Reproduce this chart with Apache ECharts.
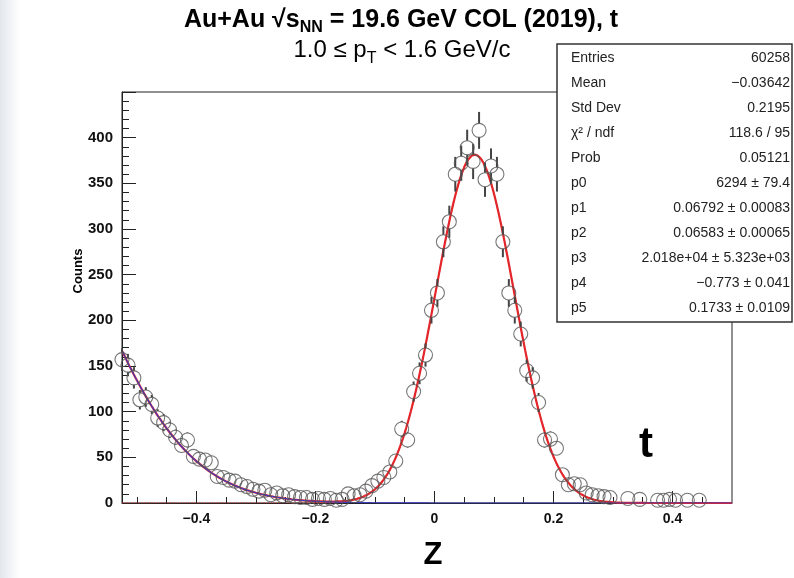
<!DOCTYPE html>
<html>
<head>
<meta charset="utf-8">
<script src="https://cdn.jsdelivr.net/npm/echarts@6/dist/echarts.min.js"></script>
<style>
html,body{margin:0;padding:0;background:#fff;}
#c{width:794px;height:578px;}
</style>
</head>
<body>
<div id="c"></div>
<script>
// ---------------- data ----------------
const binCenters = [
 -0.525,-0.515,-0.505,-0.495,-0.485,-0.475,-0.465,-0.455,-0.445,-0.435,
 -0.425,-0.415,-0.405,-0.395,-0.385,-0.375,-0.365,-0.355,-0.345,-0.335,
 -0.325,-0.315,-0.305,-0.295,-0.285,-0.275,-0.265,-0.255,-0.245,-0.235,
 -0.225,-0.215,-0.205,-0.195,-0.185,-0.175,-0.165,-0.155,-0.145,-0.135,
 -0.125,-0.115,-0.105,-0.095,-0.085,-0.075,-0.065,-0.055,-0.045,-0.035,
 -0.025,-0.015,-0.005, 0.005, 0.015, 0.025, 0.035, 0.045, 0.055, 0.065,
  0.075, 0.085, 0.095, 0.105, 0.115, 0.125, 0.135, 0.145, 0.155, 0.165,
  0.175, 0.185, 0.195, 0.205, 0.215, 0.225, 0.235, 0.245, 0.255, 0.265,
  0.275, 0.285, 0.295, 0.305, 0.315, 0.325, 0.335, 0.345, 0.355, 0.365,
  0.375, 0.385, 0.395, 0.405, 0.415, 0.425, 0.435, 0.445
];
const counts = [
 157,151,137,113,116,108, 93, 88, 80, 72,
  63, 69, 51, 48, 47, 44, 29, 28, 25, 24,
  20, 18, 15, 13, 14,  9, 11,  8,  9,  7,
   6,  6,  4,  5,  4,  5,  3,  4, 10,  8,
   9, 13, 19, 24, 28, 34, 46, 81, 69,122,
 142,162,211,230,286,308,360,372,389,374,
 408,354,369,360,286,230,211,185,145,137,
 110, 69, 70, 60, 31, 20, 21, 20, 11,  9,
   8,  7,  6,  0,  0,  5,  0,  4,  0,  0,
   3,  3,  4,  3,  0,  3,  0,  3
];
// fit parameters p0..p5 as printed in the stats box
const fitParams = [6294, 0.06792, 0.06583, 20180, -0.773, 0.1733];
const binWidth = 0.01;
const xTickLabels = [-0.4, -0.2, 0, 0.2, 0.4];
const xMinorTicks = [-0.5,-0.45,-0.35,-0.3,-0.25,-0.15,-0.1,-0.05,0.05,0.1,0.15,0.25,0.3,0.35,0.45];
const yTickLabels = [0, 50, 100, 150, 200, 250, 300, 350, 400];
const statNames = ['Entries','Mean','Std Dev','\u03c7\u00b2 / ndf','Prob','p0','p1','p2','p3','p4','p5'];
const statValues = ['60258','\u22120.03642','0.2195','118.6 / 95','0.05121','6294 \u00b1 79.4',
  '0.06792 \u00b1 0.00083','0.06583 \u00b1 0.00065','2.018e+04 \u00b1 5.323e+03','\u22120.773 \u00b1 0.041','0.1733 \u00b1 0.0109'];
const xMin = -0.525, xMax = 0.5, yMin = 0, yMax = 450;

// ---------------- build ----------------
const F = '"Liberation Sans", Arial, Helvetica, sans-serif';
const pts = [];
binCenters.forEach((x, i) => { if (counts[i] > 0) pts.push([x, counts[i], Math.sqrt(counts[i])]); });

// fit components evaluated from the printed parameters
function gaus(x, n, m, s) {
  return binWidth * n / (Math.sqrt(2 * Math.PI) * s) * Math.exp(-(x - m) * (x - m) / (2 * s * s));
}
const sig = [], bkg = [], tot = [];
for (let k = 0; k <= 410; k++) {
  const x = xMin + k * 0.0025;
  const s = gaus(x, fitParams[0], fitParams[1], fitParams[2]);
  const b = gaus(x, fitParams[3], fitParams[4], fitParams[5]);
  sig.push([x, s]); bkg.push([x, b]); tot.push([x, s + b]);
}

const R = 7; // marker radius px
const fmt = v => v === 0 ? '0' : (v < 0 ? '\u2212' + Math.abs(v).toFixed(1) : v.toFixed(1));

const chart = echarts.init(document.getElementById('c'), null, {renderer: 'canvas'});

const graphics = [];
graphics.push({type: 'rect', shape: {x: 0, y: 0, width: 20, height: 578}, silent: true, z: 0,
  style: {fill: new echarts.graphic.LinearGradient(0, 0, 1, 0, [{offset: 0, color: '#e2e7ed'}, {offset: 1, color: '#ffffff'}])}});
// title
graphics.push({type: 'text', x: 401, y: 20, z: 10, style: {
  text: '{b|Au+Au \u221as}{s|NN}{b| = 19.6 GeV COL (2019), t}',
  align: 'center', verticalAlign: 'middle',
  rich: {
    b: {fontFamily: F, fontWeight: 'bold', fontSize: 25, fill: '#000', lineHeight: 30},
    s: {fontFamily: F, fontWeight: 'bold', fontSize: 16, fill: '#000', padding: [15, 0, 0, 0]}
  }}});
graphics.push({type: 'text', x: 402, y: 50, z: 10, style: {
  text: '{b|1.0 \u2264 p}{s|T}{b| < 1.6 GeV/c}',
  align: 'center', verticalAlign: 'middle',
  rich: {
    b: {fontFamily: F, fontSize: 24, fill: '#000', lineHeight: 28},
    s: {fontFamily: F, fontSize: 16, fill: '#000', padding: [17, 0, 0, 0]}
  }}});
// axis titles
graphics.push({type: 'text', x: 78, y: 271, rotation: Math.PI / 2, z: 10, style: {
  text: 'Counts', fontFamily: F, fontWeight: 'bold', fontSize: 13, fill: '#000', align: 'center', verticalAlign: 'middle'}});
graphics.push({type: 'text', x: 433, y: 555, z: 10, style: {
  text: 'Z', fontFamily: F, fontWeight: 'bold', fontSize: 31, fill: '#000', align: 'center', verticalAlign: 'middle'}});
graphics.push({type: 'text', x: 646, y: 445, z: 10, style: {
  text: 't', fontFamily: F, fontWeight: 'bold', fontSize: 42, fill: '#000', align: 'center', verticalAlign: 'middle'}});
// stats box
graphics.push({type: 'rect', shape: {x: 557, y: 44, width: 235, height: 278}, z: 20,
  style: {fill: '#fff', stroke: '#333', lineWidth: 1.5}});
statNames.forEach((n, i) => {
  const y = 58 + i * 25;
  graphics.push({type: 'text', x: 571, y: y, z: 21, style: {text: n, fontFamily: F, fontSize: 14, fill: '#222', align: 'left', verticalAlign: 'middle'}});
  graphics.push({type: 'text', x: 790, y: y, z: 21, style: {text: statValues[i], fontFamily: F, fontSize: 14, fill: '#222', align: 'right', verticalAlign: 'middle'}});
});

const option = {
  animation: false,
  grid: {left: 122, right: 62, top: 92, bottom: 75, show: true, borderColor: '#222', borderWidth: 1, backgroundColor: 'transparent'},
  xAxis: [
    {type: 'value', min: xMin, max: xMax, position: 'bottom',
      axisLine: {show: true, onZero: false, lineStyle: {color: '#222', width: 1}},
      axisTick: {show: true, inside: true, length: 12, customValues: xTickLabels, lineStyle: {color: '#222', width: 1}},
      axisLabel: {show: true, customValues: xTickLabels, formatter: fmt, fontFamily: F, fontWeight: 'bold', fontSize: 14, color: '#111', margin: 9},
      splitLine: {show: false}},
    {type: 'value', min: xMin, max: xMax, position: 'bottom', offset: 0,
      axisLine: {show: false},
      axisTick: {show: true, inside: true, length: 6, customValues: xMinorTicks, lineStyle: {color: '#222', width: 1}},
      axisLabel: {show: false}, splitLine: {show: false}}
  ],
  yAxis: {type: 'value', min: yMin, max: yMax, interval: 50,
    axisLine: {show: true, onZero: false, lineStyle: {color: '#222', width: 1}},
    axisTick: {show: true, inside: true, length: 14, lineStyle: {color: '#222', width: 1}},
    minorTick: {show: true, splitNumber: 5, length: 7, lineStyle: {color: '#222', width: 1}},
    axisLabel: {show: true, customValues: yTickLabels, fontFamily: F, fontWeight: 'bold', fontSize: 15, color: '#111', margin: 9},
    splitLine: {show: false}, minorSplitLine: {show: false}},
  series: [
    {type: 'line', data: sig, showSymbol: false, silent: true, z: 2,
      lineStyle: {color: '#e0262b', width: 1.2, type: 'dotted'}},
    {type: 'line', data: tot, showSymbol: false, silent: true, z: 3,
      lineStyle: {color: '#e3262a', width: 2.2}},
    {type: 'line', data: bkg, showSymbol: false, silent: true, z: 4,
      lineStyle: {color: '#3a3ac4', width: 1.2}},
    {type: 'custom', data: pts, silent: true, z: 5, clip: false,
      renderItem: function (params, api) {
        const x = api.value(0), y = api.value(1), e = api.value(2);
        const c = api.coord([x, y]);
        const t = api.coord([x, y + e]);
        const b = api.coord([x, Math.max(y - e, 0)]);
        const ch = [];
        const st = {stroke: '#444', lineWidth: 2};
        if (c[1] - t[1] > R) ch.push({type: 'line', shape: {x1: c[0], y1: t[1], x2: c[0], y2: c[1] - R}, style: st});
        if (b[1] - c[1] > R) ch.push({type: 'line', shape: {x1: c[0], y1: c[1] + R, x2: c[0], y2: b[1]}, style: st});
        return {type: 'group', children: ch};
      }},
    {type: 'scatter', data: pts, symbol: 'circle', symbolSize: 2 * R, silent: true, z: 6, clip: false,
      itemStyle: {color: 'rgba(0,0,0,0)', borderColor: '#555', borderWidth: 1.1}}
  ],
  graphic: graphics
};
chart.setOption(option);
</script>
</body>
</html>
